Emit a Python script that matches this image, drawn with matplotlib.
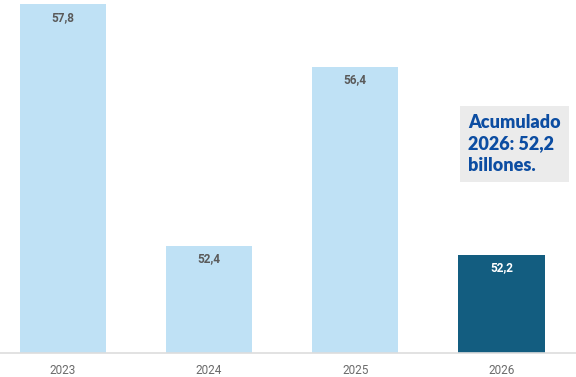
import matplotlib
matplotlib.use("Agg")
import matplotlib.pyplot as plt
import numpy as np

years = ["2023", "2024", "2025", "2026"]
values = [57.8, 52.4, 56.4, 52.2]
labels = ["57,8", "52,4", "56,4", "52,2"]
note = "Acumulado\n2026: 52,2\nbillones."

light = "#bfe1f5"
dark = "#135d80"
colors = [light, light, light, dark]

fig = plt.figure(figsize=(5.76, 3.77), dpi=100)
ax = fig.add_axes([0, 24/377, 1, 358/377])

x = np.arange(len(years))
ax.bar(x, values, width=0.59, color=colors, zorder=2)

ax.set_ylim(50, 58)
ax.set_xlim(-0.43, 3.51)

for i in range(len(values)):
    c = "white" if i == 3 else "#5a5a5a"
    ax.text(x[i], values[i] - 0.3, labels[i], ha="center", va="center",
            fontsize=8.5, fontweight="bold", color=c, family="Roboto")

ax.set_xticks(x)
ax.set_xticklabels(years, fontsize=8.5, color="#6b6b6b", family="Roboto")
ax.tick_params(axis="x", length=0, pad=8)
ax.set_yticks([])
for s in ["top", "left", "right"]:
    ax.spines[s].set_visible(False)
ax.spines["bottom"].set_color("#dddddd")
ax.spines["bottom"].set_linewidth(1.2)

ax.text(2.77, 54.67, note, ha="left", va="center", fontsize=13, fontweight="heavy",
        color="#0c4da2", family="Lato", linespacing=1.3,
        bbox=dict(boxstyle="square,pad=0.45", fc="#ebebeb", ec="none"))

fig.savefig("out.png", dpi=100)
